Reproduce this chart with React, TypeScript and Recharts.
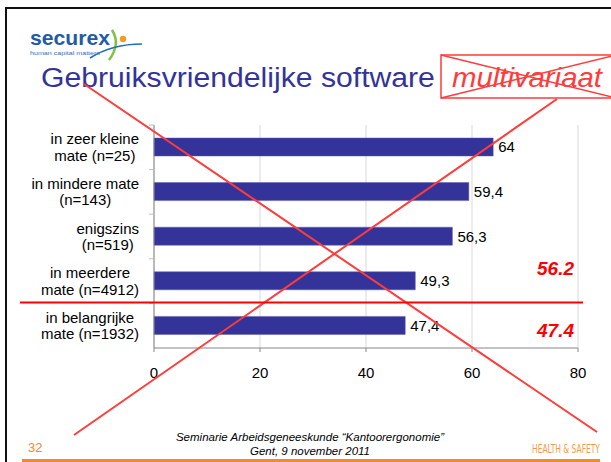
import React from 'react';
import { Bar, BarChart, CartesianGrid, LabelList, XAxis, YAxis } from 'recharts';

// categorie-labels (twee regels zoals in de dia) en gemiddelde scores
const categoryLines: string[][] = [
  ['in zeer kleine', 'mate (n=25)'],
  ['in mindere mate', '(n=143)'],
  ['enigszins', '(n=519)'],
  ['in meerdere', 'mate (n=4912)'],
  ['in belangrijke', 'mate (n=1932)'],
];
const scores = [64, 59.4, 56.3, 49.3, 47.4];
const xTicks = [0, 20, 40, 60, 80];
const multivariate = ['56.2', '47.4'];

const data = categoryLines.map((lines, i) => ({ label: lines.join(' '), score: scores[i] }));

const W = 611;
const H = 462;
const MARGIN = { top: 125, right: 33, bottom: 84, left: 4 };
const Y_AXIS_W = 150;
const X_AXIS_H = 30;
const PLOT_H = H - MARGIN.top - MARGIN.bottom - X_AXIS_H;
const BAND = PLOT_H / categoryLines.length;

const FONT = '"Liberation Sans", Arial, Helvetica, sans-serif';
const NARROW = '"Liberation Sans Narrow", "DejaVu Sans Condensed", sans-serif';
const RED = '#ff3b3b';
const ORANGE = '#f08a30';

let ctx: CanvasRenderingContext2D | null = null;
function textWidth(s: string, size: number, family = FONT, extra = '') {
  if (!ctx) ctx = document.createElement('canvas').getContext('2d');
  if (!ctx) return s.length * size * 0.5;
  ctx.font = `${extra} ${size}px ${family}`;
  return ctx.measureText(s).width;
}

// tekst die horizontaal geschaald wordt tot een gegeven breedte
function FitText({ x, y, w, size, family = FONT, weight = '', style = '', fill, children }: any) {
  const natural = textWidth(children, size, family, `${style} ${weight}`);
  const sx = natural > 0 ? w / natural : 1;
  return (
    <text
      transform={`translate(${x},${y}) scale(${sx},1)`}
      fontSize={size}
      fontWeight={weight || undefined}
      fontStyle={style || undefined}
      fill={fill}
      style={{ fontFamily: family }}
    >
      {children}
    </text>
  );
}

function CategoryTick(props: any) {
  const { x, y, index } = props;
  const lines = categoryLines[index] ?? [];
  const size = 15;
  const blockW = Math.max(...lines.map((l) => textWidth(l, size)));
  const cx = x - blockW / 2;
  const axisX = x + 15;
  return (
    <g>
      <line x1={axisX - 5} x2={axisX} y1={y - BAND / 2} y2={y - BAND / 2} stroke="#bfbfbf" />
      {lines.map((l, i) => (
        <text key={i} x={cx} y={y - 3 + i * 16.5} textAnchor="middle" fontSize={size} fill="#000">
          {l}
        </text>
      ))}
    </g>
  );
}

function Overlay() {
  return (
    <svg
      width={W}
      height={H}
      style={{ position: 'absolute', left: 0, top: 0, pointerEvents: 'none', fontFamily: FONT }}
    >
      {/* kader */}
      <rect x={5} y={7} width={W - 5} height={2} fill="#111" />
      <rect x={5} y={7} width={2} height={H - 7} fill="#111" />

      {/* logo */}
      <FitText x={30} y={45} w={80} size={20} weight="bold" fill="#1f5ba6">
        securex
      </FitText>
      <FitText x={30} y={55} w={70} size={6} fill="#3a6db5">
        human capital matters
      </FitText>
      <path d="M112 30 Q121 44 109 60" stroke="#7dc242" strokeWidth={2.5} fill="none" />
      <path d="M142 44 Q112 44 90 58" stroke="#1f6fb8" strokeWidth={1.5} fill="none" />
      <circle cx={123} cy={39} r={3.2} fill="#f59a23" />

      {/* titel */}
      <FitText x={41} y={87} w={394} size={28} fill="#333399">
        Gebruiksvriendelijke software
      </FitText>
      <rect x={441} y={55} width={175} height={43} fill="none" stroke={RED} strokeWidth={1.5} />
      <line x1={441} y1={55} x2={616} y2={98} stroke={RED} strokeWidth={1.5} />
      <line x1={441} y1={98} x2={616} y2={55} stroke={RED} strokeWidth={1.5} />
      <FitText x={452} y={87} w={150} size={28} style="italic" fill={RED}>
        multivariaat
      </FitText>

      {/* doorstreping */}
      <line x1={84} y1={84} x2={597} y2={432} stroke={RED} strokeWidth={2} />
      <line x1={557} y1={99} x2={74} y2={435} stroke={RED} strokeWidth={2} />
      <line x1={20} y1={302.5} x2={583} y2={302.5} stroke="#ff0000" strokeWidth={2} />

      {/* multivariate waarden */}
      {multivariate.map((v, i) => (
        <text key={v} x={574} y={275 + i * 62} textAnchor="end" fontSize={19} fontWeight="bold" fontStyle="italic" fill="#ff0000">
          {v}
        </text>
      ))}

      {/* voettekst */}
      <text x={28} y={452} fontSize={13} fill={ORANGE}>
        32
      </text>
      <text x={310} y={441} textAnchor="middle" fontSize={11.5} fontStyle="italic" fill="#000">
        Seminarie Arbeidsgeneeskunde “Kantoorergonomie”
      </text>
      <text x={310} y={455} textAnchor="middle" fontSize={11.5} fontStyle="italic" fill="#000">
        Gent, 9 november 2011
      </text>
      <FitText x={532} y={453} w={68} size={12} family={NARROW} fill="#f29a4a">
        HEALTH &amp; SAFETY
      </FitText>
      <rect x={22} y={459} width={578} height={3} fill={ORANGE} />
    </svg>
  );
}

export default function App() {
  return (
    <div style={{ position: 'absolute', left: 0, top: 0, width: W, height: H, background: '#fff', fontFamily: FONT }}>
      <BarChart width={W} height={H} data={data} layout="vertical" margin={MARGIN}>
        <CartesianGrid horizontal={false} stroke="#d9d9d9" />
        <XAxis
          type="number"
          domain={[0, 80]}
          ticks={xTicks}
          height={X_AXIS_H}
          stroke="#868686"
          tickSize={4}
          tickMargin={15}
          tick={{ fontSize: 15, fill: '#000' }}
        />
        <YAxis
          type="category"
          dataKey="label"
          width={Y_AXIS_W}
          stroke="#868686"
          tickLine={false}
          tickSize={6}
          tickMargin={9}
          interval={0}
          tick={<CategoryTick />}
        />
        <Bar dataKey="score" barSize={18} fill="#333399" stroke="#5a5ab0" strokeWidth={0.5} isAnimationActive={false}>
          <LabelList
            dataKey="score"
            position="right"
            offset={5}
            fontSize={15}
            fill="#000"
            formatter={(v: any) => String(v).replace('.', ',')}
          />
        </Bar>
      </BarChart>
      <Overlay />
    </div>
  );
}
